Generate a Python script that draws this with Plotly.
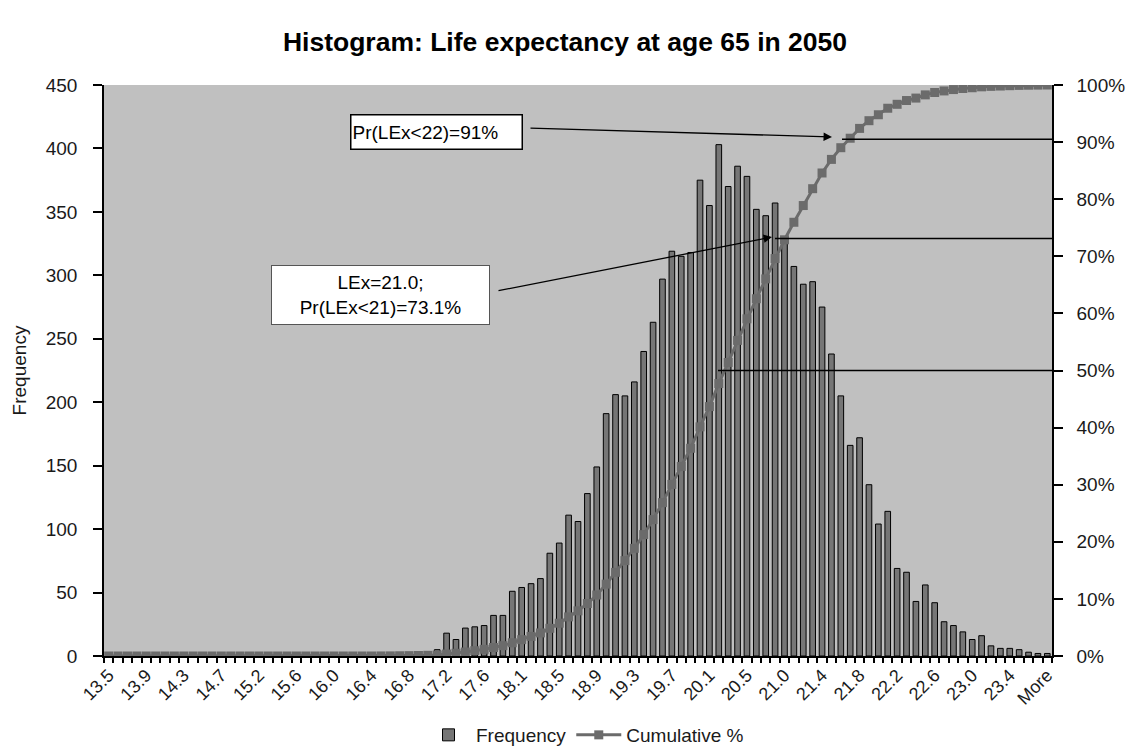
import numpy as np
import plotly.graph_objects as go

# ---------------- data ----------------
bins = [
    "13.5", "13.6", "13.7", "13.8", "13.9", "14.0", "14.1", "14.2", "14.3", "14.4",
    "14.5", "14.6", "14.7", "14.8", "15.0", "15.1", "15.2", "15.3", "15.4", "15.5",
    "15.6", "15.7", "15.8", "15.9", "16.0", "16.1", "16.2", "16.3", "16.4", "16.5",
    "16.6", "16.7", "16.8", "16.9", "17.0", "17.1", "17.2", "17.3", "17.4", "17.5",
    "17.6", "17.7", "17.9", "18.0", "18.1", "18.2", "18.3", "18.4", "18.5", "18.6",
    "18.7", "18.8", "18.9", "19.0", "19.1", "19.2", "19.3", "19.4", "19.5", "19.6",
    "19.7", "19.8", "19.9", "20.0", "20.1", "20.2", "20.3", "20.4", "20.5", "20.6",
    "20.8", "20.9", "21.0", "21.1", "21.2", "21.3", "21.4", "21.5", "21.6", "21.7",
    "21.8", "21.9", "22.0", "22.1", "22.2", "22.3", "22.4", "22.5", "22.6", "22.7",
    "22.8", "22.9", "23.0", "23.1", "23.2", "23.3", "23.4", "23.5", "23.7", "23.8",
    "More",
]

frequency = [
    0, 0, 0, 0, 0, 0, 0, 0, 0, 0,
    0, 0, 0, 0, 0, 0, 0, 0, 0, 0,
    0, 0, 0, 0, 0, 0, 0, 0, 0, 1,
    1, 2, 2, 3, 3, 5, 18, 13, 22, 23,
    24, 32, 32, 51, 54, 57, 61, 81, 89, 111,
    106, 128, 149, 191, 206, 205, 216, 240, 263, 297,
    319, 315, 318, 375, 355, 403, 370, 386, 378, 352,
    347, 357, 328, 307, 293, 295, 275, 238, 205, 166,
    172, 135, 104, 114, 69, 66, 43, 56, 42, 27,
    24, 19, 13, 16, 8, 6, 6, 5, 3, 2,
    2,
]

label_every = 4
tick_text = [b if i % label_every == 0 else "" for i, b in enumerate(bins)]

# cumulative % as computed by the histogram tool
cumulative = np.cumsum(frequency) / np.sum(frequency)

# reference lines / annotation values
ref_levels = [0.905, 0.731, 0.50]
ref_starts_px = [842, 775, 718]

# ---------------- layout geometry (pixels) ----------------
W, H = 1138, 751
L, R, T, B = 104, 1052, 85, 656


def px(xp, yp):
    return (xp - L) / (R - L), (B - yp) / (B - T)


FONT = "Liberation Sans, Arial, sans-serif"
GRAY = "#6b6b6b"
TXT = "#1a1a1a"

fig = go.Figure()
fig.add_trace(go.Bar(
    x=bins, y=frequency, name="Frequency",
    marker=dict(color="#767676", line=dict(color="black", width=1)),
    yaxis="y",
))
fig.add_trace(go.Scatter(
    x=bins, y=cumulative, name="Cumulative %", mode="lines+markers",
    line=dict(color=GRAY, width=3),
    marker=dict(symbol="square", size=9, color=GRAY),
    yaxis="y2",
))

shapes = []
for lvl, sx in zip(ref_levels, ref_starts_px):
    shapes.append(dict(type="line", xref="paper", yref="y2",
                       x0=px(sx, 0)[0], x1=1, y0=lvl, y1=lvl,
                       line=dict(color="black", width=1.5)))

annotations = []
# text boxes
bx, by = px(436, 131.5)
annotations.append(dict(
    xref="paper", yref="paper", x=bx, y=by, xanchor="center", yanchor="middle",
    text="Pr(LEx&lt;22)=91%", showarrow=False, align="left",
    width=168, height=31, borderpad=1, bordercolor="black", borderwidth=1.5,
    bgcolor="white", font=dict(family=FONT, size=19, color="black"),
))
bx, by = px(380.5, 295)
annotations.append(dict(
    xref="paper", yref="paper", x=bx, y=by, xanchor="center", yanchor="middle",
    text="LEx=21.0;<br>Pr(LEx&lt;21)=73.1%", showarrow=False, align="center",
    width=215, height=56, borderpad=1, bordercolor="#555555", borderwidth=1,
    bgcolor="white", font=dict(family=FONT, size=19, color="black"),
))
# arrows
for (tx, ty), (sx, sy) in [((832, 137), (529, 128)), ((772, 237), (497, 291))]:
    ax_, ay_ = px(tx, ty)
    annotations.append(dict(
        xref="paper", yref="paper", x=ax_, y=ay_, text="", showarrow=True,
        axref="pixel", ayref="pixel", ax=sx - tx, ay=sy - ty,
        arrowhead=2, arrowsize=1.3, arrowwidth=1.3, arrowcolor="black",
        standoff=0,
    ))

fig.update_layout(
    width=W, height=H,
    margin=dict(l=L, r=W - R, t=T, b=H - B, pad=0, autoexpand=False),
    paper_bgcolor="white", plot_bgcolor="#c0c0c0",
    font=dict(family=FONT, color=TXT),
    title=dict(text="<b>Histogram: Life expectancy at age 65 in 2050</b>",
               x=565 / W, xanchor="center", y=1 - 42 / H, yanchor="middle",
               font=dict(family=FONT, size=26.5, color="black")),
    bargap=0.4,
    showlegend=True,
    legend=dict(orientation="h", x=(585 - L) / (R - L), xanchor="center",
                y=-(735 - B) / (B - T), yanchor="middle",
                font=dict(family=FONT, size=19, color=TXT),
                bgcolor="rgba(0,0,0,0)", itemwidth=45),
    xaxis=dict(type="category", range=[-0.5, len(bins) - 0.5], automargin=False,
               tickmode="array", tickvals=bins, ticktext=tick_text,
               tickangle=-45, tickson="boundaries",
               ticks="outside", ticklen=5, tickwidth=1.5, tickcolor="black",
               showline=True, linecolor="black", linewidth=1.5,
               showgrid=False, zeroline=False,
               tickfont=dict(family=FONT, size=18, color=TXT)),
    yaxis=dict(range=[0, 450], dtick=50, tick0=0, automargin=False,
               ticks="outside", ticklen=9, tickwidth=1.5, tickcolor="black",
               showline=True, linecolor="black", linewidth=1.5,
               showgrid=False, zeroline=False, ticklabelstandoff=12,
               tickfont=dict(family=FONT, size=19, color=TXT),
               title=dict(text="Frequency", standoff=14,
                          font=dict(family=FONT, size=19, color=TXT))),
    yaxis2=dict(overlaying="y", side="right", range=[0, 1], dtick=0.1, tick0=0,
                tickformat=".0%", automargin=False,
                ticks="outside", ticklen=9, tickwidth=1.5, tickcolor="black",
                showline=True, linecolor="black", linewidth=1.5,
                showgrid=False, zeroline=False, ticklabelstandoff=10,
                tickfont=dict(family=FONT, size=19, color=TXT)),
    shapes=shapes,
    annotations=annotations,
)

fig.write_html("out.html",
               config={"displayModeBar": False},
               post_script="document.body.style.margin='0';document.body.style.overflow='hidden';")
